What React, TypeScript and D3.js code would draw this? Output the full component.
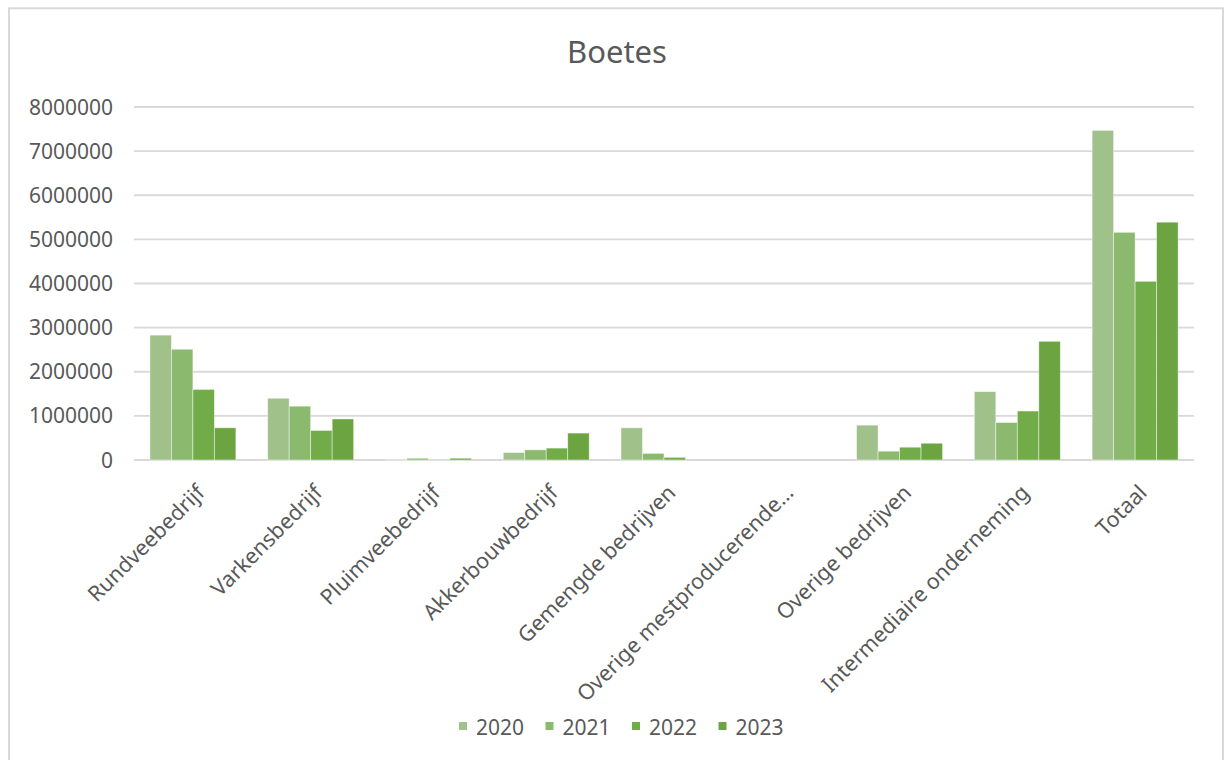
import React from 'react';
import * as d3 from 'd3';

const categories = [
  'Rundveebedrijf',
  'Varkensbedrijf',
  'Pluimveebedrijf',
  'Akkerbouwbedrijf',
  'Gemengde bedrijven',
  'Overige mestproducerende…',
  'Overige bedrijven',
  'Intermediaire onderneming',
  'Totaal',
];

const years = ['2020', '2021', '2022', '2023'];

const values2020 = [2830000, 1400000, 5000, 170000, 730000, 0, 790000, 1550000, 7470000];
const values2021 = [2510000, 1220000, 40000, 230000, 150000, 0, 200000, 850000, 5160000];
const values2022 = [1600000, 670000, 5000, 270000, 60000, 0, 290000, 1110000, 4050000];
const values2023 = [730000, 930000, 40000, 610000, 0, 0, 380000, 2690000, 5390000];

const yTicks = [0, 1000000, 2000000, 3000000, 4000000, 5000000, 6000000, 7000000, 8000000];

const colors = ['#a0c28a', '#8bba6e', '#71ac48', '#6ba441'];

const seriesValues = [values2020, values2021, values2022, values2023];

const W = 1229;
const H = 760;
const FONT = '"Noto Sans", "Open Sans", sans-serif';
const TEXT = '#595959';

export default function App() {
  const left = 134;
  const right = 1194;
  const top = 107;
  const bottom = 460;

  // category groups, then one band per year inside each group
  const x0 = d3.scaleBand<string>().domain(categories).range([left, right]).paddingInner(0.27).paddingOuter(0.135);
  const x1 = d3.scaleBand<string>().domain(years).range([0, x0.bandwidth()]);
  const y = d3.scaleLinear().domain([0, 8000000]).range([bottom, top]);

  return (
    <div style={{ position: 'absolute', left: 0, top: 0 }}>
      <svg width={W} height={H} style={{ display: 'block', background: '#fff' }}>
        <rect x={9} y={8.3} width={1214} height={800} fill="#fff" stroke="#d9d9d9" strokeWidth={2} />

        <text x={617} y={63} textAnchor="middle" fontFamily={FONT} fontSize={31} fill={TEXT}>
          Boetes
        </text>

        {/* gridlines + y labels */}
        {yTicks.map((t) => (
          <g key={t}>
            <line x1={left} x2={right} y1={y(t)} y2={y(t)} stroke="#d9d9d9" strokeWidth={t === 0 ? 2.2 : 1.8} />
            <text x={113} y={y(t)} dy="0.36em" textAnchor="end" fontFamily={FONT} fontSize={21} fill={TEXT}>
              {t}
            </text>
          </g>
        ))}

        {/* bars */}
        {categories.map((c, ci) => (
          <g key={c} transform={`translate(${x0(c)},0)`}>
            {years.map((yr, si) => {
              const v = seriesValues[si][ci];
              if (v <= 0) return null;
              return (
                <rect
                  key={yr}
                  x={x1(yr)}
                  y={y(v)}
                  width={x1.bandwidth()}
                  height={y(0) - y(v)}
                  fill={colors[si]}
                  stroke="#ffffff"
                  strokeOpacity={0.55}
                  strokeWidth={0.8}
                />
              );
            })}
          </g>
        ))}

        {/* category labels */}
        {categories.map((c) => {
          const cx = (x0(c) as number) + x0.bandwidth() / 2;
          return (
            <text
              key={c}
              transform={`translate(${cx + 13},${494}) rotate(-45)`}
              textAnchor="end"
              fontFamily={FONT}
              fontSize={21.5}
              fill={TEXT}
            >
              {c}
            </text>
          );
        })}

        {/* legend */}
        {years.map((yr, i) => {
          const lx = 459 + i * 86.5;
          return (
            <g key={yr}>
              <rect x={lx} y={722} width={8} height={8} fill={colors[i]} />
              <text x={lx + 17} y={727} dy="0.36em" fontFamily={FONT} fontSize={21} fill={TEXT}>
                {yr}
              </text>
            </g>
          );
        })}
      </svg>
    </div>
  );
}
